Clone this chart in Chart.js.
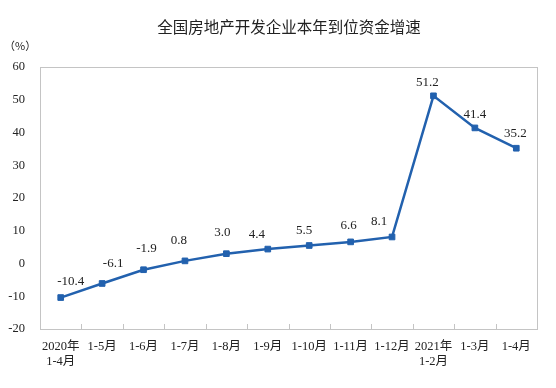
<!DOCTYPE html>
<html><head><meta charset="utf-8">
<script src="https://cdn.jsdelivr.net/npm/chart.js@4/dist/chart.umd.min.js"></script>
<style>html,body{margin:0;padding:0;background:#fff}#w{width:556px;height:388px}</style>
</head><body><div id="w"><canvas id="c" width="556" height="388"></canvas></div>
<script>
const categories = [["2020年","1-4月"],"1-5月","1-6月","1-7月","1-8月","1-9月","1-10月","1-11月","1-12月",["2021年","1-2月"],"1-3月","1-4月"];
const growth = [-10.4,-6.1,-1.9,0.8,3.0,4.4,5.5,6.6,8.1,51.2,41.4,35.2];
const valueLabels = ["-10.4","-6.1","-1.9","0.8","3.0","4.4","5.5","6.6","8.1","51.2","41.4","35.2"];
const yTicks = [60,50,40,30,20,10,0,-10,-20];
const title = "全国房地产开发企业本年到位资金增速";
const unit = "（%）";

// label nudges relative to each point (styling only)
const labelDx = [10,11,3,-6,-4,-11,-5,-2,-13,-6,0,-1];
const labelDy = [-16,-20,-21,-20,-21,-15,-15,-16,-15,-13,-13,-15];

const serif = "'Liberation Serif','Noto Sans CJK SC',serif";
const lineColor = '#2261AE';
const axisColor = '#C4C4C4';

const deco = {
  id:'deco',
  afterDraw(chart){
    const ctx = chart.ctx, a = chart.chartArea;
    ctx.save();
    ctx.strokeStyle = axisColor; ctx.lineWidth = 1;
    ctx.strokeRect(Math.round(a.left)+0.5, Math.round(a.top)+0.5, Math.round(a.right-a.left), Math.round(a.bottom-a.top));
    const xs = chart.scales.x;
    for(let i=1;i<categories.length;i++){
      const x = Math.round((xs.getPixelForValue(i-1)+xs.getPixelForValue(i))/2)+0.5;
      ctx.beginPath(); ctx.moveTo(x,a.bottom); ctx.lineTo(x,a.bottom-5); ctx.stroke();
    }
    ctx.fillStyle = '#222';
    ctx.font = "15.5px 'Noto Sans CJK SC',sans-serif";
    ctx.textAlign = 'center'; ctx.textBaseline = 'middle';
    ctx.fillText(title, 289, 27);
    ctx.font = "11px 'Noto Sans CJK SC',sans-serif";
    ctx.textAlign = 'left';
    ctx.fillText(unit, 4, 46);
    ctx.font = "13px " + serif;
    ctx.textAlign = 'center'; ctx.textBaseline = 'middle';
    const meta = chart.getDatasetMeta(0);
    meta.data.forEach((p,i)=>{
      ctx.fillText(valueLabels[i], p.x + labelDx[i], p.y + labelDy[i]);
    });
    ctx.restore();
  }
};

new Chart(document.getElementById('c'), {
  type:'line',
  data:{labels:categories, datasets:[{data:growth, borderColor:lineColor, backgroundColor:lineColor, borderWidth:2.5,
    pointStyle:'rect', pointRadius:4, pointHoverRadius:4, pointBorderWidth:1, tension:0}]},
  options:{
    responsive:false, animation:false,
    layout:{padding:{left:0,right:19,top:67,bottom:0}},
    plugins:{legend:{display:false}, tooltip:{enabled:false}},
    scales:{
      x:{offset:true, grid:{display:false, offset:true}, border:{display:false},
        ticks:{color:'#222', font:{family:serif,size:12.5}, padding:2, maxRotation:0, autoSkip:false},
        afterFit(s){ s.height = 59; }},
      y:{min:-20,max:60, grid:{display:false}, border:{display:false},
        afterBuildTicks(s){ s.ticks = yTicks.map(v=>({value:v})); },
        ticks:{color:'#222', font:{family:serif,size:12.5}, padding:7, callback:v=>String(v)},
        afterFit(s){ s.width = 40; }}
    }
  },
  plugins:[deco]
});
</script></body></html>
